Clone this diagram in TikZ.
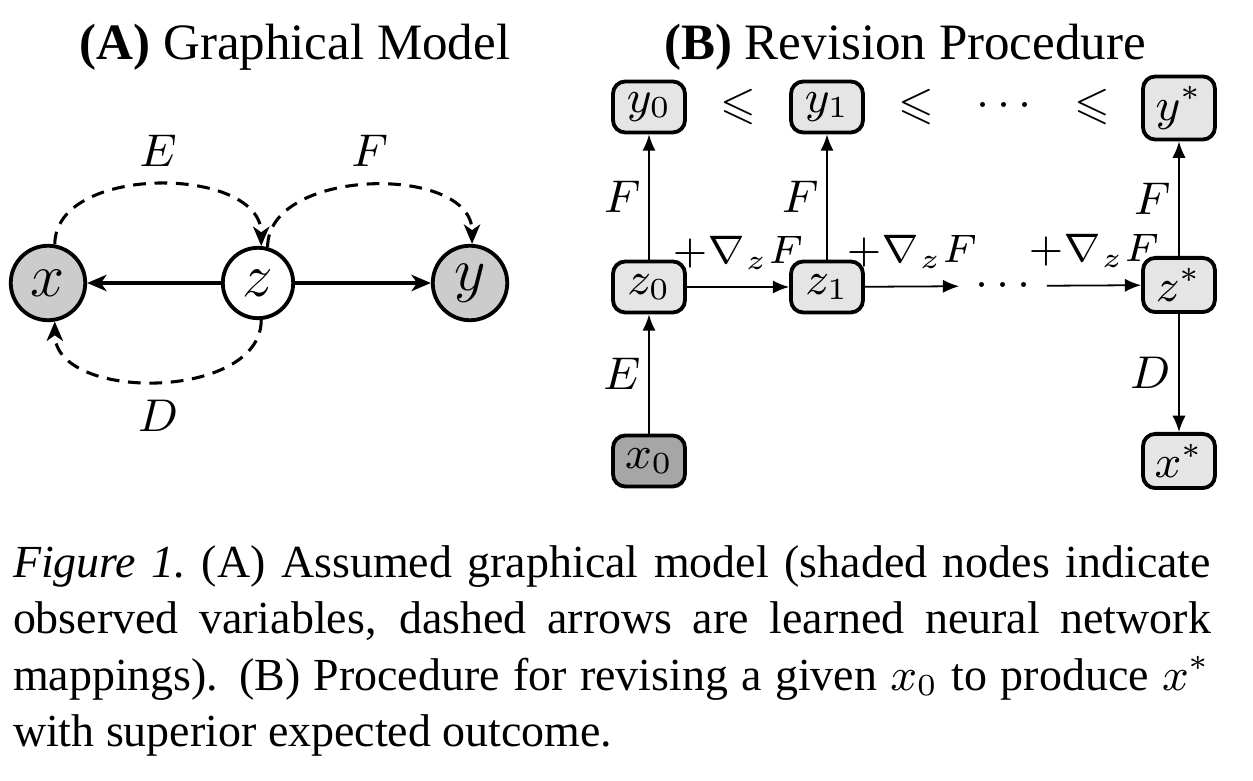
\RequirePackage{fix-cm}
\documentclass[tikz,border=0pt]{standalone}
\usepackage[no-math]{fontspec}
\setmainfont{Liberation Serif}
\usepackage{amssymb}
\usetikzlibrary{arrows.meta}

\begin{document}
\begin{tikzpicture}[x=0.196pt, y=-0.196pt,
    obs/.style={circle, draw, line width=0.75pt, fill=black!20, minimum size=14.6pt, inner sep=0pt, font=\fontsize{12}{14}\selectfont},
    lat/.style={obs, fill=white, minimum size=13.8pt},
    box/.style={rectangle, rounded corners=2.4pt, draw, line width=0.75pt, fill=black!10, minimum width=14.1pt, minimum height=10pt, inner sep=2pt, font=\fontsize{9}{10.8}\selectfont},
    lbl/.style={font=\fontsize{9}{10.8}\selectfont},
    side/.style={lbl, left=0.5pt, inner sep=1pt},
    grad/.style={above=0pt, font=\fontsize{7.8}{9}\selectfont},
    rel/.style={font=\fontsize{9}{10.8}\selectfont, inner sep=1pt},
    dep/.style={-{Stealth[length=3.8pt, width=3.2pt, inset=1.1pt]}, line width=0.6pt},
    nn/.style={dep, dash pattern=on 2.5pt off 1.7pt},
    rev/.style={-{Latex[length=3.2pt, width=2.6pt]}, line width=0.35pt}]
  \useasboundingbox (0,0) rectangle (1253,781);

  % (A) graphical model
  \node [anchor=base] (ta) at (295,60) {\fontsize{10}{12}\selectfont\textbf{(A)} Graphical Model};
  \node [obs] (x) at (48,283) {$x$};
  \node [lat] (z) at (258,283) {$z$};
  \node [obs] (y) at (470,283) {$y$};
  \draw [dep] (z) -- (x);
  \draw [dep] (z) -- (y);
  \draw [nn] (x.80) to [out=90, in=90] node [lbl, above] (le) {$E$} (z.85);
  \draw [nn] (z.75) to [out=90, in=90] node [lbl, above] (lf) {$F$} (y.87);
  \draw [nn] (z.-85) to [out=-90, in=-90] node [lbl, below] (ld) {$D$} (x.-80);

  % (B) revision procedure
  \node [anchor=base] (tb) at (905,60) {\fontsize{10}{12}\selectfont\textbf{(B)} Revision Procedure};
  \node [box] (y0) at (649,107) {$y_0$};
  \node [rel] (le0) at (738,107) {$\leqslant$};
  \node [box] (y1) at (827,107) {$y_1$};
  \node [rel] (le1) at (916,107) {$\leqslant$};
  \node [rel] (yd) at (1004,106) {$\cdots$};
  \node [rel] (le2) at (1092,107) {$\leqslant$};
  \node [box] (ys) at (1179,108) {$y^*$};
  \node [box] (z0) at (649,287) {$z_0$};
  \node [box] (z1) at (827,287) {$z_1$};
  \node [rel, inner sep=3pt] (zd) at (1003,286) {$\cdots$};
  \node [box] (zs) at (1179,285) {$z^*$};
  \node [box, fill=black!35] (x0) at (649,461) {$x_0$};
  \node [box] (xs) at (1179,461) {$x^*$};
  \draw [rev] (x0) -- node [side] (lE) {$E$} (z0);
  \draw [rev] (z0) -- node [side] (lF0) {$F$} (y0);
  \draw [rev] (z1) -- node [side] (lF1) {$F$} (y1);
  \draw [rev] (zs) -- node [side] (lFs) {$F$} (ys);
  \draw [rev] (zs) -- node [side] (lD) {$D$} (xs);
  \draw [rev] (z0) -- node [grad] (lg0) {$+\nabla_z F$} (z1);
  \draw [rev] (z1) -- node [grad] (lg1) {$+\nabla_z F$} (zd);
  \draw [rev] (zd) -- node [grad] (lg2) {$+\nabla_z F$} (zs);

  % caption
  \node [anchor=north west, text width=234.8pt, align=justify, inner sep=0pt,
    font=\fontsize{9}{11}\selectfont] (cap) at (12,545)
    {\textit{Figure 1.}\ (A) Assumed graphical model (shaded nodes indicate\linebreak
     observed variables, dashed arrows are learned neural network\linebreak
     mappings). (B) Procedure for revising a given $x_0$ to produce $x^*$\linebreak
     with superior expected outcome.};
\end{tikzpicture}
\end{document}
